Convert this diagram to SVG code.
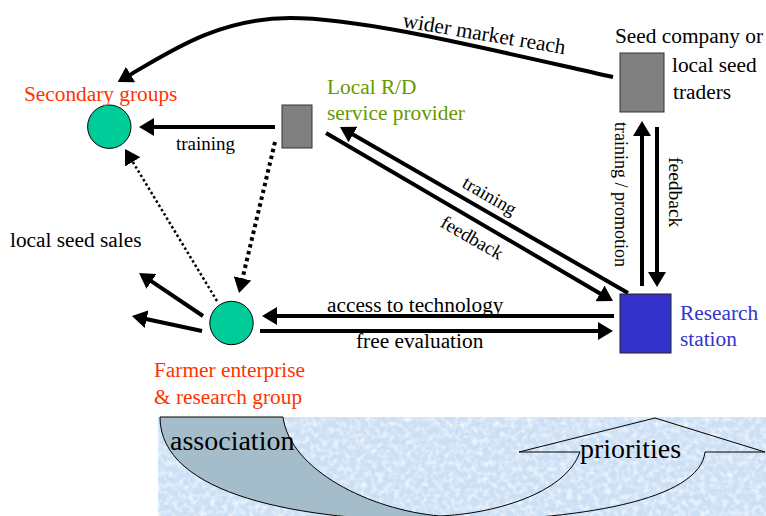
<svg xmlns="http://www.w3.org/2000/svg" width="766" height="516" viewBox="0 0 766 516">
<style>
text{font-family:"Liberation Serif","Times New Roman",serif;fill:#000}
.n{font-size:21.33px}
.s{font-size:19px}
.big{font-size:28px}
.red{fill:#ff3300}
.grn{fill:#669900}
.blu{fill:#3333cc}
.ln{fill:none;stroke:#000;stroke-width:4}
.dotA{fill:none;stroke:#000;stroke-width:4;stroke-dasharray:3.5 3.5}
.dotB{fill:none;stroke:#000;stroke-width:2.5;stroke-dasharray:2.5 2.5}
.circ{fill:#00cc99;stroke:#000;stroke-width:1}
.grey{fill:#808080;stroke:#333;stroke-width:1}
</style>
<defs>
<marker id="ah" viewBox="0 0 15 18" refX="3" refY="9" markerWidth="15" markerHeight="18" markerUnits="userSpaceOnUse" orient="auto">
<path d="M0,0 L15,9 L0,18 z" fill="#000"/>
</marker>
<filter id="speckle" x="0" y="0" width="1" height="1" color-interpolation-filters="sRGB">
<feTurbulence type="fractalNoise" baseFrequency="0.18" numOctaves="2" seed="7"/>
<feColorMatrix type="matrix" values="0 0 0 0 1  0 0 0 0 1  0 0 0 0 1  1.6 0 0 0 -0.62"/>
<feComposite in2="SourceGraphic" operator="in"/>
</filter>
</defs>
<rect width="766" height="516" fill="#fff"/>

<g id="banner">
<rect x="158" y="417" width="608" height="99" fill="#cbdff5"/>
<rect x="158" y="417" width="608" height="99" fill="#fff" filter="url(#speckle)"/>
<path d="M160,417 L283,417 C290,470 370,510 440,516 L440,521 C300,521 160,495 160,417 Z" fill="#a5bccb"/>
<path d="M283,417 C290,470 370,510 440,516 C490,514 565,495 580,452 L519,452 L655,418 L765,452 L705,452 C700,500 580,521 440,521 C300,521 160,495 160,417 Z" fill="none" stroke="#000" stroke-width="1"/>
<text class="big" x="170" y="450">association</text>
<text class="big" x="580" y="458">priorities</text>
</g>

<g id="connectors">
<path class="ln" d="M613,77 C470,45 360,18 290,18 C220,18 172,50 128,76" marker-end="url(#ah)"/>
<text class="n" transform="translate(402,27) rotate(9.5)">wider market reach</text>
<path class="ln" d="M275,127 L151,127" marker-end="url(#ah)"/>
<text class="s" x="176" y="150">training</text>
<path class="dotA" d="M275,142 L241.8,281.3" marker-end="url(#ah)"/>
<path class="dotB" d="M217,301 L131.2,159.3" marker-end="url(#ah)"/>
<path class="ln" d="M203,316 L149,279.7" marker-end="url(#ah)"/>
<path class="ln" d="M202,331 L143.7,318.5" marker-end="url(#ah)"/>
<text class="n" x="10" y="247">local seed sales</text>
<path class="ln" d="M614,316 L274,316" marker-end="url(#ah)"/>
<text class="n" x="327" y="312">access to technology</text>
<path class="ln" d="M260,331 L601,331" marker-end="url(#ah)"/>
<text class="n" x="356" y="348">free evaluation</text>
<path class="ln" d="M628,293 L350.4,133" marker-end="url(#ah)"/>
<text class="s" text-anchor="middle" transform="translate(489,197) rotate(30)" y="5">training</text>
<path class="ln" d="M326,133 L602.6,294.9" marker-end="url(#ah)"/>
<text class="s" text-anchor="middle" transform="translate(472,238) rotate(30)" y="6">feedback</text>
<path class="ln" d="M642,286 L642,133" marker-end="url(#ah)"/>
<text font-size="18" transform="translate(615,122) rotate(90)">training / promotion</text>
<path class="ln" d="M657,127 L657,275" marker-end="url(#ah)"/>
<text font-size="19.5" transform="translate(669,157) rotate(90)">feedback</text>
</g>

<g id="secondary-groups">
<circle class="circ" cx="109.3" cy="126.7" r="21.7"/>
<text class="n red" x="24" y="101">Secondary groups</text>
</g>

<g id="local-rd-provider">
<rect class="grey" x="282" y="105" width="30" height="43"/>
<text class="n grn" x="327" y="94">Local R/D</text>
<text class="n grn" x="327" y="120">service provider</text>
</g>

<g id="seed-company">
<rect class="grey" x="620" y="53" width="44" height="59"/>
<text class="n" x="615" y="43">Seed company or</text>
<text class="n" x="672" y="72">local seed</text>
<text class="n" x="673" y="99">traders</text>
</g>

<g id="research-station">
<rect x="620" y="294" width="51" height="59" fill="#3333cc" stroke="#222" stroke-width="1"/>
<text class="n blu" x="680" y="320">Research</text>
<text class="n blu" x="680" y="346">station</text>
</g>

<g id="farmer-group">
<circle class="circ" cx="231.5" cy="323" r="21.7"/>
<text class="n red" x="154" y="377">Farmer enterprise</text>
<text class="n red" x="154" y="404">&amp; research group</text>
</g>
</svg>
